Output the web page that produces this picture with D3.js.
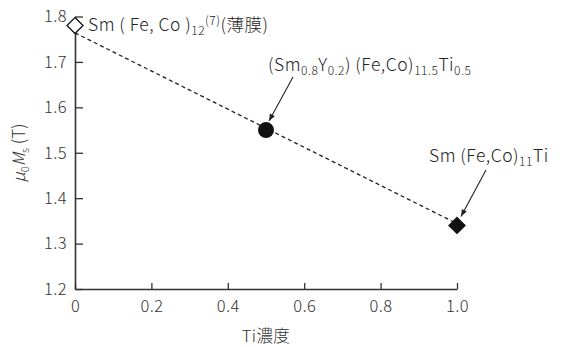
<!DOCTYPE html>
<html><head><meta charset="utf-8">
<script src="https://cdn.jsdelivr.net/npm/d3@7"></script>
<style>
body{margin:0;background:#fff;}
svg{display:block;font-family:"Noto Sans CJK JP","Noto Sans",sans-serif;font-weight:300;}
</style></head>
<body><div id="chart"></div>
<script>
const tiConc = [0, 0.5, 1.0];
const magnetization = [1.78, 1.55, 1.34];
const markerKinds = ["openDiamond", "circle", "filledDiamond"];
const fitX = [0, 1.0];
const fitY = [1.764, 1.344];
const xTicks = [0, 0.2, 0.4, 0.6, 0.8, 1.0];
const xTickLabels = ["0", "0.2", "0.4", "0.6", "0.8", "1.0"];
const yTicks = [1.2, 1.3, 1.4, 1.5, 1.6, 1.7, 1.8];
const yTickLabels = ["1.2", "1.3", "1.4", "1.5", "1.6", "1.7", "1.8"];

const W = 566, H = 347;
const svg = d3.select("#chart").append("svg").attr("width", W).attr("height", H);
const x = d3.scaleLinear().domain([0, 1]).range([75, 457]);
const y = d3.scaleLinear().domain([1.2, 1.8]).range([289, 16.5]);
const ink = "#333";

svg.append("defs").append("marker").attr("id", "ah")
  .attr("viewBox", "0 0 10 10").attr("refX", 10).attr("refY", 5)
  .attr("markerWidth", 9).attr("markerHeight", 7).attr("markerUnits", "userSpaceOnUse")
  .attr("orient", "auto")
  .append("path").attr("d", "M0,1 L10,5 L0,9 Z").attr("fill", "#222");

// axes
const xAxis = d3.axisBottom(x).tickValues(xTicks).tickFormat((d, i) => xTickLabels[i])
  .tickSizeInner(-6).tickSizeOuter(0).tickPadding(14);
const gx = svg.append("g").attr("transform", `translate(0,${y(1.2)})`).call(xAxis);
const yAxis = d3.axisLeft(y).tickValues(yTicks).tickFormat((d, i) => yTickLabels[i])
  .tickSizeInner(-8).tickSizeOuter(0).tickPadding(16);
const gy = svg.append("g").attr("transform", `translate(${x(0)},0)`).call(yAxis);
[gx, gy].forEach(g => {
  g.select(".domain").attr("stroke", ink).attr("stroke-width", 1.6);
  g.selectAll(".tick line").attr("stroke", ink).attr("stroke-width", 1.3);
  g.selectAll(".tick text").attr("fill", "#333").attr("font-size", 16.5)
    .attr("letter-spacing", 0.4).attr("font-weight", 300)
    .attr("font-family", '"Noto Sans CJK JP","Noto Sans",sans-serif');
});
gx.selectAll(".tick text").attr("dy", "0.71em").attr("y", 11);
gy.selectAll(".tick text").attr("x", -8);

// fit line
svg.append("line")
  .attr("x1", x(fitX[0])).attr("y1", y(fitY[0]))
  .attr("x2", x(fitX[1])).attr("y2", y(fitY[1]))
  .attr("stroke", "#222").attr("stroke-width", 1.3).attr("stroke-dasharray", "4,3");

// markers
tiConc.forEach((t, i) => {
  const cx = x(t), cy = y(magnetization[i]);
  const k = markerKinds[i];
  if (k === "circle") {
    svg.append("circle").attr("cx", cx).attr("cy", cy).attr("r", 8).attr("fill", "#111");
  } else {
    const r = 8;
    svg.append("path")
      .attr("d", `M${cx},${cy - r} L${cx + r},${cy} L${cx},${cy + r} L${cx - r},${cy} Z`)
      .attr("fill", k === "filledDiamond" ? "#111" : "#fff")
      .attr("stroke", "#111").attr("stroke-width", 1.3);
  }
});

// annotations
function label(xp, yp, parts) {
  const t = svg.append("text").attr("x", xp).attr("y", yp).attr("font-size", 17.5)
    .attr("letter-spacing", 0.5).attr("fill", "#222");
  let shift = 0;
  parts.forEach(p => {
    const target = p.sub ? 4 : (p.sup ? -6 : 0);
    const ts = t.append("tspan").text(p.t).attr("dy", target - shift);
    if (p.sub || p.sup) ts.attr("font-size", 12);
    shift = target;
  });
  return t;
}
label(x(0) + 13, y(magnetization[0]) + 5, [
  {t: "Sm ( Fe, Co )"}, {t: "12", sub: 1}, {t: "(7)", sup: 1}, {t: "(薄膜)"}
]);
label(268, 71, [
  {t: "(Sm"}, {t: "0.8", sub: 1}, {t: "Y"}, {t: "0.2", sub: 1}, {t: ") (Fe,Co)"}, {t: "11.5", sub: 1}, {t: "Ti"}, {t: "0.5", sub: 1}
]);
label(429, 162, [
  {t: "Sm (Fe,Co)"}, {t: "11", sub: 1}, {t: "Ti"}
]);

svg.append("line").attr("x1", 293).attr("y1", 77)
  .attr("x2", x(tiConc[1]) + 3).attr("y2", y(magnetization[1]) - 9)
  .attr("stroke", "#222").attr("stroke-width", 1.1).attr("marker-end", "url(#ah)");
svg.append("line").attr("x1", 486).attr("y1", 170)
  .attr("x2", x(tiConc[2]) + 4).attr("y2", y(magnetization[2]) - 9)
  .attr("stroke", "#222").attr("stroke-width", 1.1).attr("marker-end", "url(#ah)");

// axis titles
svg.append("text").attr("x", x(0.5)).attr("y", 342).attr("text-anchor", "middle")
  .attr("font-size", 16.5).attr("letter-spacing", 0.4).attr("fill", "#333").text("Ti濃度");
const yt = svg.append("text").attr("transform", "translate(25,153) rotate(-90)")
  .attr("text-anchor", "middle").attr("font-size", 17).attr("fill", "#333");
yt.append("tspan").attr("font-style", "italic").text("μ");
yt.append("tspan").attr("font-size", 11).attr("dy", 4).text("0");
yt.append("tspan").attr("font-style", "italic").attr("dy", -4).text("M");
yt.append("tspan").attr("font-size", 11).attr("dy", 4).text("s");
yt.append("tspan").attr("dy", -4).text(" (T)");
</script></body></html>
